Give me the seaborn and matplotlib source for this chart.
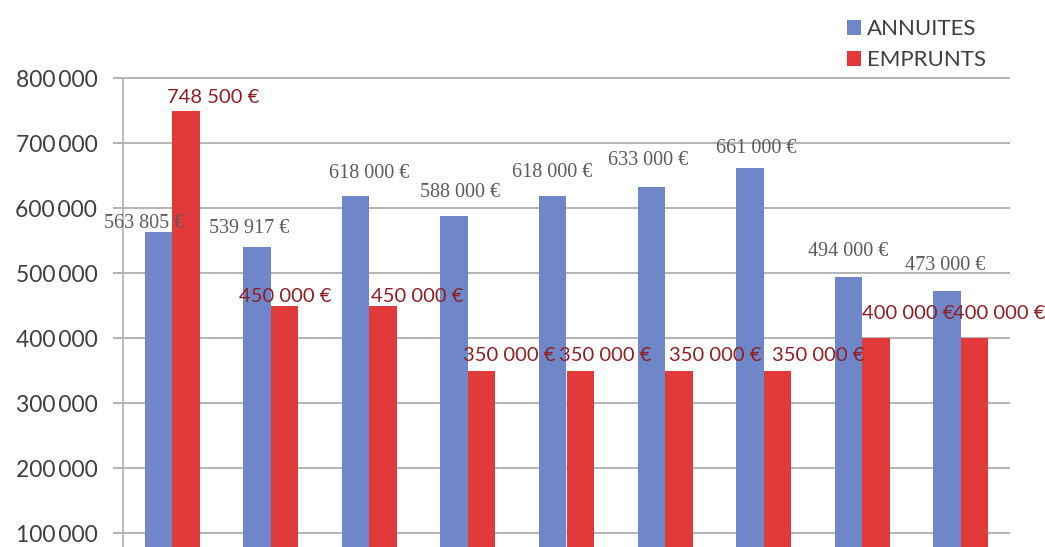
import matplotlib
matplotlib.use("Agg")
import matplotlib.pyplot as plt
from matplotlib.patches import Patch
import seaborn as sns
import pandas as pd

# Yearly amounts (euros)
periodes = ["1", "2", "3", "4", "5", "6", "7", "8", "9"]
annuites = [563805, 539917, 618000, 588000, 618000, 633000, 661000, 494000, 473000]
emprunts = [748500, 450000, 450000, 350000, 350000, 350000, 350000, 400000, 400000]
series = ["ANNUITES", "EMPRUNTS"]
y_ticks = [100000, 200000, 300000, 400000, 500000, 600000, 700000, 800000]

# Label nudges in pixels: (dx, dy) from the top centre of each bar
annuites_nudge = [(-14, 8), (-8, 19), (14, 23), (6, 23), (-1, 24), (-3, 26), (6, 20), (0, 25), (-2, 25)]
emprunts_nudge = [(27, 14), (1, 9), (34, 9), (28, 15), (25, 15), (36, 15), (41, 15), (32, 25), (25, 25)]

colors = {"ANNUITES": "#6f87c9", "EMPRUNTS": "#e23a3b"}
label_colors = {"ANNUITES": "#5c5c5c", "EMPRUNTS": "#8e1f22"}

df = pd.DataFrame({
    "periode": periodes * 2,
    "montant": annuites + emprunts,
    "serie": [series[0]] * len(periodes) + [series[1]] * len(periodes),
})

sns.set_theme(style="white")
plt.rcParams["font.family"] = ["Lato", "DejaVu Sans"]

fig = plt.figure(figsize=(10.45, 5.47), dpi=100)
ax = fig.add_axes([123 / 1045, 0, 887 / 1045, 1])

sns.barplot(data=df, x="periode", y="montant", hue="serie", hue_order=series,
            order=periodes, palette=colors, width=0.558, saturation=1,
            legend=False, ax=ax, errorbar=None, linewidth=0, edgecolor="none")

ax.set_ylim(78500, 920000)
ax.set_xlim(-0.5, len(periodes) - 0.5)
ax.set_yticks(y_ticks)
ax.set_yticklabels([f"{v:,}".replace(",", "\u2009") for v in y_ticks],
                   fontsize=16.5, color="#3f3f3f")
ax.set_xticks([])
ax.set_xlabel("")
ax.set_ylabel("")

ax.yaxis.grid(True, color="#a8a8a8", linewidth=1.2)
ax.set_axisbelow(True)
ax.tick_params(axis="y", which="major", left=True, length=7.5, width=1.2,
               color="#a8a8a8", pad=11)
for side in ["top", "right", "bottom"]:
    ax.spines[side].set_visible(False)
ax.spines["left"].set_color("#b0b0b0")
ax.spines["left"].set_linewidth(1.2)
ax.spines["left"].set_bounds(78500, y_ticks[-1])

# Value labels above each bar
fonts = {"ANNUITES": ["Liberation Serif", "DejaVu Serif"],
         "EMPRUNTS": ["Lato", "DejaVu Sans"]}
nudges = {"ANNUITES": annuites_nudge, "EMPRUNTS": emprunts_nudge}
for name, container in zip(series, ax.containers):
    for bar, (dx, dy) in zip(container.patches, nudges[name]):
        value = bar.get_height()
        text = f"{int(round(value)):,}".replace(",", " ") + " €"
        ax.annotate(text, xy=(bar.get_x() + bar.get_width() / 2, value),
                    xytext=(dx, dy), textcoords="offset pixels",
                    ha="center", va="center", fontsize=14.5,
                    color=label_colors[name], family=fonts[name],
                    annotation_clip=False)

handles = [Patch(facecolor=colors[s], edgecolor="none", label=s) for s in series]
fig.legend(handles=handles, loc="upper left", bbox_to_anchor=(847 / 1045, 1 - 19 / 547),
           frameon=False, fontsize=16, handlelength=0.65, handleheight=0.65,
           handletextpad=0.25, labelspacing=0.5, borderpad=0, borderaxespad=0,
           labelcolor="#3f3f3f")

fig.savefig("out.png", dpi=100)
